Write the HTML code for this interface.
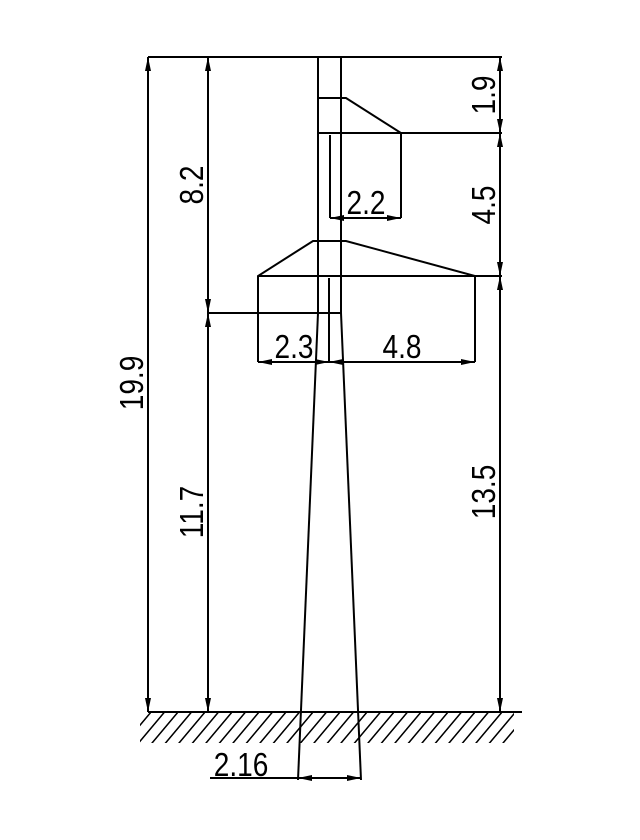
<!DOCTYPE html>
<html><head><meta charset="utf-8"><style>html,body{margin:0;padding:0;background:#fff}svg{display:block}</style></head>
<body>
<svg width="640" height="840" viewBox="0 0 640 840" xmlns="http://www.w3.org/2000/svg">
<defs>
<marker id="a" viewBox="0 0 14 6" refX="14" refY="3" markerWidth="14" markerHeight="6" markerUnits="userSpaceOnUse" orient="auto-start-reverse"><path d="M0,0L14,3L0,6z" fill="#000"/></marker>
<pattern id="h" width="13.5" height="60" patternUnits="userSpaceOnUse" patternTransform="skewX(-40)"><line x1="6" y1="0" x2="6" y2="60" stroke="#000" stroke-width="2"/></pattern>
</defs>
<g stroke="#000" stroke-width="2" fill="none">
<line x1="148" y1="57" x2="502" y2="57"/>
<line x1="318" y1="57" x2="318" y2="313"/>
<line x1="341" y1="57" x2="341" y2="313"/>
<line x1="318" y1="313" x2="298" y2="780"/>
<line x1="341" y1="313" x2="361" y2="780"/>
<polyline points="318,98 346,98 401,133 401,218"/>
<line x1="318" y1="133" x2="502" y2="133"/>
<line x1="330" y1="135" x2="330" y2="218"/>
<line x1="330" y1="218" x2="401" y2="218" marker-start="url(#a)" marker-end="url(#a)"/>
<polyline points="258,362 258,276 313,241 346,241 475,276 475,362"/>
<line x1="258" y1="276" x2="502" y2="276"/>
<line x1="329" y1="278" x2="329" y2="362"/>
<line x1="208" y1="313" x2="341" y2="313"/>
<line x1="258" y1="362" x2="329" y2="362" marker-start="url(#a)" marker-end="url(#a)"/>
<line x1="329" y1="362" x2="475" y2="362" marker-start="url(#a)" marker-end="url(#a)"/>
<line x1="148" y1="57" x2="148" y2="712" marker-start="url(#a)" marker-end="url(#a)"/>
<line x1="208" y1="57" x2="208" y2="313" marker-start="url(#a)" marker-end="url(#a)"/>
<line x1="208" y1="313" x2="208" y2="712" marker-start="url(#a)" marker-end="url(#a)"/>
<line x1="500" y1="57" x2="500" y2="133" marker-start="url(#a)" marker-end="url(#a)"/>
<line x1="500" y1="133" x2="500" y2="276" marker-start="url(#a)" marker-end="url(#a)"/>
<line x1="500" y1="276" x2="500" y2="712" marker-start="url(#a)" marker-end="url(#a)"/>
<line x1="148" y1="712" x2="522" y2="712"/>
<line x1="210" y1="778" x2="298" y2="778"/>
<line x1="298" y1="778" x2="361" y2="778" marker-start="url(#a)" marker-end="url(#a)"/>
</g>
<rect x="140" y="713" width="374" height="30" fill="url(#h)"/>
<g font-family="Liberation Sans, sans-serif" font-size="33" fill="#000">
<text transform="translate(143,383) rotate(-90) scale(0.85,1)" text-anchor="middle">19.9</text>
<text transform="translate(203,185) rotate(-90) scale(0.85,1)" text-anchor="middle">8.2</text>
<text transform="translate(203,512) rotate(-90) scale(0.85,1)" text-anchor="middle">11.7</text>
<text transform="translate(495,95) rotate(-90) scale(0.85,1)" text-anchor="middle">1.9</text>
<text transform="translate(495,205) rotate(-90) scale(0.85,1)" text-anchor="middle">4.5</text>
<text transform="translate(495,492) rotate(-90) scale(0.85,1)" text-anchor="middle">13.5</text>
<text transform="translate(366,214) scale(0.85,1)" text-anchor="middle">2.2</text>
<text transform="translate(294,358) scale(0.85,1)" text-anchor="middle">2.3</text>
<text transform="translate(402,358) scale(0.85,1)" text-anchor="middle">4.8</text>
<text transform="translate(241,776) scale(0.85,1)" text-anchor="middle">2.16</text>
</g>
</svg>
</body></html>
